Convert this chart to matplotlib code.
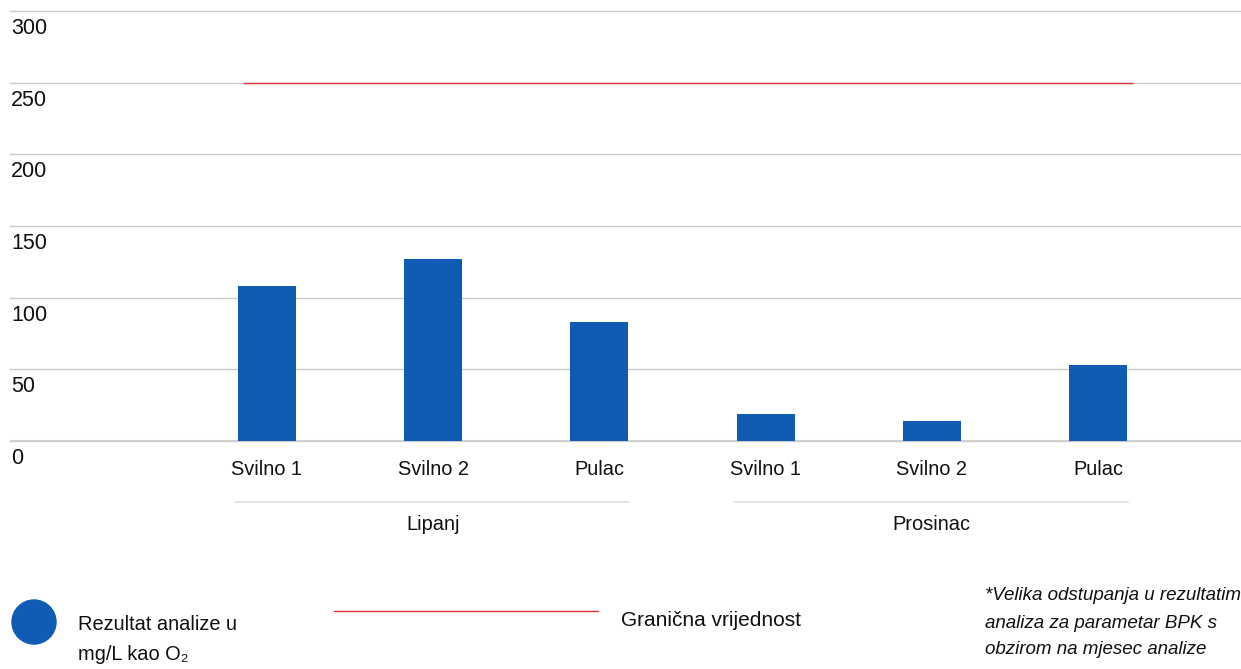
import matplotlib
matplotlib.use("Agg")
import matplotlib.pyplot as plt
from matplotlib.patches import Circle
from matplotlib.lines import Line2D
from matplotlib.transforms import ScaledTranslation

plt.rcParams['font.family'] = ['Liberation Sans', 'DejaVu Sans']

# BPK results (mg/L O2) per sampling site and month
sites = ["Svilno 1", "Svilno 2", "Pulac", "Svilno 1", "Svilno 2", "Pulac"]
months = ["Lipanj", "Prosinac"]
month_groups = [(0, 2), (3, 5)]
results = [108, 127, 83, 19, 14, 53]
limit_value = 250
y_ticks = [0, 50, 100, 150, 200, 250, 300]

bar_color = "#105cb4"
limit_color = "#e2363f"
grid_color = "#cccccc"

fig = plt.figure(figsize=(12.41, 6.69), dpi=100)
ax = fig.add_axes([10 / 1241, 228 / 669, 1 - 10 / 1241, 430 / 669])

x = list(range(len(sites)))
ax.bar(x, results, width=0.35, color=bar_color, zorder=3)

# limit line across the categories
ax.hlines(limit_value, -0.145, 5.21, color=limit_color, lw=1.0, zorder=4)

ax.set_xlim(-1.546, 5.86)
ax.set_ylim(0, 300)

for s in ax.spines.values():
    s.set_visible(False)

# horizontal grid
ax.set_yticks(y_ticks, [str(v) for v in y_ticks])
ax.grid(axis='y', color=grid_color, lw=1.0, zorder=0)
for gl in ax.get_ygridlines():
    gl.set_clip_on(False)
ax.axhline(0, color="#d2d2d2", lw=2.2, zorder=2)

ax.tick_params(axis='y', length=0, pad=0, labelsize=15.5, labelcolor="#111111")
offset = ScaledTranslation(0.01, -0.175, fig.dpi_scale_trans)
for lbl in ax.get_yticklabels():
    lbl.set_horizontalalignment('left')
    lbl.set_verticalalignment('center')
    lbl.set_transform(lbl.get_transform() + offset)

ax.set_xticks(x, sites)
ax.tick_params(axis='x', length=0, pad=14, labelsize=14.4, labelcolor="#111111")

# month grouping lines and labels
xt = ax.get_xaxis_transform()
for name, (a, b) in zip(months, month_groups):
    ax.add_line(Line2D([a - 0.185, b + 0.18], [-0.142, -0.142], transform=xt,
                       color="#dddddd", lw=1.2, clip_on=False))
    ax.text((a + b) / 2, -0.195, name, transform=xt, ha='center', va='center',
            fontsize=14.4, color="#111111")

# legend
inch = fig.dpi_scale_trans
fig.add_artist(Circle((0.34, 0.47), 0.22, transform=inch, color=bar_color))
fig.text(0.78, 0.45, "Rezultat analize u", transform=inch, va='center',
         fontsize=14.4, color="#111111")
fig.text(0.78, 0.14, "mg/L kao O\u2082", transform=inch, va='center',
         fontsize=14.4, color="#111111")
fig.add_artist(Line2D([3.34, 5.98], [0.58, 0.58], transform=inch,
                      color=limit_color, lw=1.0))
fig.text(6.21, 0.48, "Granična vrijednost", transform=inch, va='center',
         fontsize=15, color="#111111")

note = ["*Velika odstupanja u rezultatim",
        "analiza za parametar BPK s",
        "obzirom na mjesec analize"]
for i, line in enumerate(note):
    fig.text(9.85, 0.73 - i * 0.27, line, transform=inch, va='center',
             fontsize=13.5, style='italic', color="#111111")

fig.savefig("out.png", dpi=100)
